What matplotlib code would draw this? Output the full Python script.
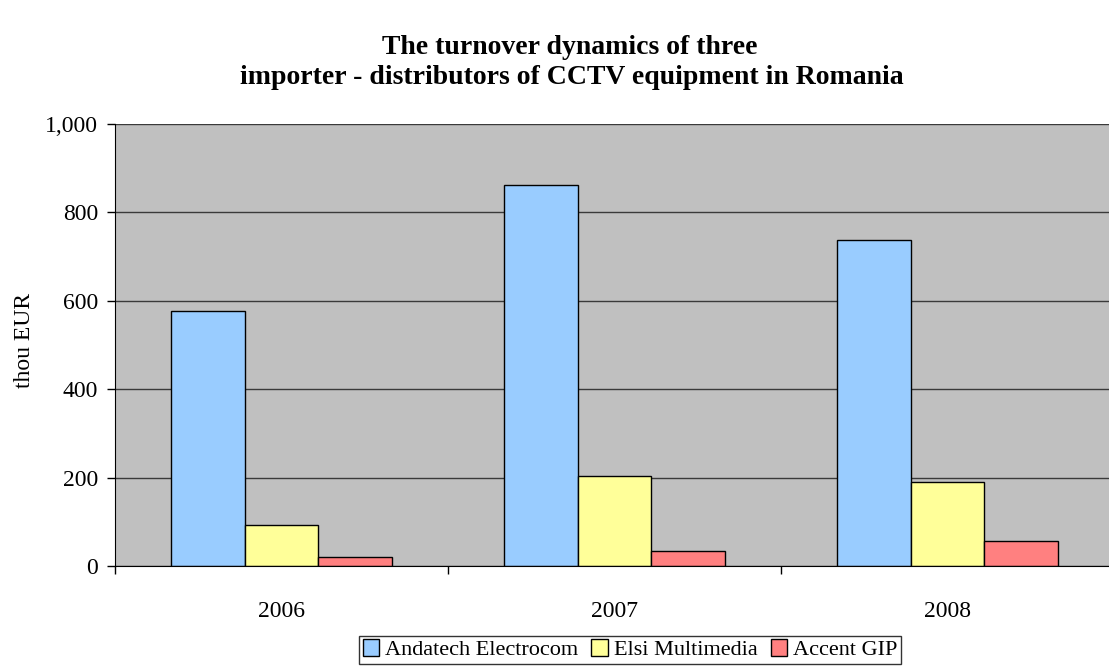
#!/usr/bin/env python3

import numpy as np
import matplotlib
matplotlib.use('Agg')
import matplotlib.pyplot as plt
from matplotlib.ticker import FuncFormatter

plt.rcParams['font.family'] = ['Liberation Serif', 'DejaVu Serif']

years = ['2006', '2007', '2008']
companies = ['Andatech Electrocom', 'Elsi Multimedia', 'Accent GIP']
andatech = [578, 861, 738]
elsi = [93, 204, 189]
accent = [21, 35, 57]
colors = ['#99CCFF', '#FFFF99', '#FF8080']

fig = plt.figure(figsize=(11.09, 6.66), dpi=100)
ax = fig.add_axes([115/1109, 100/666, 999/1109, 442/666])
ax.set_facecolor('#C0C0C0')

x = np.arange(len(years))
w = 0.222
for i, (vals, name) in enumerate(zip([andatech, elsi, accent], companies)):
    ax.bar(x + (i - 1)*w, vals, width=w, color=colors[i], edgecolor='black',
           linewidth=1.0, label=name, zorder=3)

ax.set_xlim(-0.5, 2.5)
ax.set_ylim(0, 1000)
ax.set_yticks(range(0, 1001, 200))
ax.yaxis.set_major_formatter(FuncFormatter(lambda v, p: '{:,.0f}'.format(v)))
ax.grid(axis='y', color='#3a3a3a', linewidth=1.0, zorder=1)

# category boundaries as major ticks, labels on minor ticks
ax.set_xticks([-0.5, 0.5, 1.5, 2.5])
ax.set_xticklabels([])
ax.set_xticks(x, minor=True)
ax.set_xticklabels(years, minor=True)
ax.tick_params(axis='x', which='minor', length=0, pad=25, labelsize=17)
ax.tick_params(axis='x', which='major', length=6, width=1, direction='out')
ax.tick_params(axis='y', length=6, width=1, direction='out', labelsize=17, pad=6)

for s in ['top', 'right']:
    ax.spines[s].set_visible(False)
ax.spines['left'].set_color('black')
ax.spines['bottom'].set_color('black')
ax.spines['bottom'].set_zorder(4)

ax.set_ylabel('thou EUR', fontsize=17)
ax.yaxis.set_label_coords(-0.080, 0.51)

fig.text(570/1109, 1 - 47/666, 'The turnover dynamics of three', ha='center', va='center',
         fontsize=20, fontweight='bold')
fig.text(572/1109, 1 - 77/666, 'importer - distributors of CCTV equipment in Romania',
         ha='center', va='center', fontsize=20, fontweight='bold')

leg = fig.legend(loc='upper center', bbox_to_anchor=(630/1109, 1 - 636/666), ncol=3,
                 fontsize=16, frameon=True, fancybox=False, handlelength=0.75,
                 handleheight=0.75, handletextpad=0.25, columnspacing=0.6,
                 borderpad=0.15, borderaxespad=0)
leg.get_frame().set_edgecolor('black')
leg.get_frame().set_linewidth(1.0)

fig.savefig('out.png', dpi=100)
